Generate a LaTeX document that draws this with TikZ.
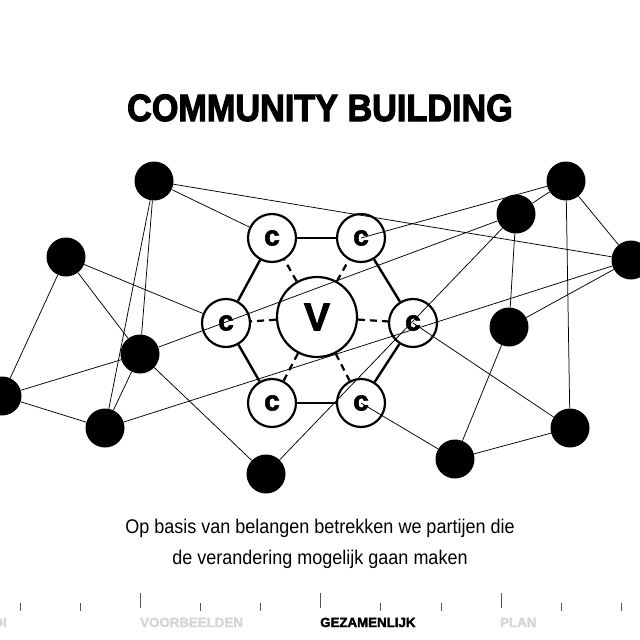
\documentclass[tikz,border=0pt]{standalone}
\usepackage{fontspec}
\setmainfont{Liberation Sans}
\newfontfamily\heavyfont{Liberation Sans}[BoldFeatures={FakeBold=2.2}]
\newfontfamily\titlefont{Liberation Sans}[BoldFeatures={FakeBold=3}]
\definecolor{navgrey}{HTML}{D6D6D6}
\definecolor{tickgrey}{HTML}{555555}
\begin{document}
\begin{tikzpicture}[x=1pt,y=-1pt,
  blk/.style={circle,fill=black,minimum size=39pt,inner sep=0pt},
  cnode/.style={circle,draw=black,line width=2.2pt,fill=white,minimum size=48pt,inner sep=0pt,
    font=\heavyfont\bfseries\fontsize{28}{28}\selectfont},
  vnode/.style={circle,draw=black,line width=2.2pt,fill=white,minimum size=80pt,inner sep=0pt,
    font=\heavyfont\bfseries\fontsize{39}{39}\selectfont},
  hexedge/.style={line width=2.4pt},
  dashedge/.style={line width=2.2pt,dash pattern=on 7pt off 5pt},
  thinedge/.style={line width=0.75pt},
  navtick/.style={draw=tickgrey,line width=0.9pt},
  navtext/.style={font=\heavyfont\bfseries\fontsize{13.3}{14}\selectfont,inner sep=0pt}]
\useasboundingbox (0,0) rectangle (640,640);
\fill[white] (0,0) rectangle (640,640);

% title
\node[font=\titlefont\bfseries\fontsize{38}{40}\selectfont,inner sep=0pt,anchor=base] (title) at (320,121) {\scalebox{0.9}[1]{COMMUNITY BUILDING}};

% black nodes
\node[blk] (B1) at (154,181) {};
\node[blk] (B2) at (66,257) {};
\node[blk] (B3) at (140,354) {};
\node[blk] (B4) at (2,396) {};
\node[blk] (B5) at (105,428) {};
\node[blk] (B6) at (266,474) {};
\node[blk] (B7) at (566,181) {};
\node[blk] (B8) at (516,214) {};
\node[blk] (B9) at (631,260) {};
\node[blk] (B10) at (509,327) {};
\node[blk] (B11) at (570,428) {};
\node[blk] (B12) at (455,459) {};

% hexagon nodes
\node[cnode] (C1) at (272,238) {c};
\node[cnode] (C2) at (361,238) {c};
\node[cnode] (C3) at (226,323) {c};
\node[cnode] (C4) at (413,323) {c};
\node[cnode] (C5) at (272,403) {c};
\node[cnode] (C6) at (361,403) {c};
\node[vnode] (V) at (317,317) {V};

% hexagon edges
\draw[hexedge] (C1) -- (C2);
\draw[hexedge] (C2) -- (C4);
\draw[hexedge] (C4) -- (C6);
\draw[hexedge] (C6) -- (C5);
\draw[hexedge] (C5) -- (C3);
\draw[hexedge] (C3) -- (C1);

% dashed spokes
\foreach \c in {C1,C2,C3,C4,C5,C6} \draw[dashedge] (V) -- (\c);

% thin network edges
\draw[thinedge] (B1) -- (C1);
\draw[thinedge] (B1) -- (B9);
\draw[thinedge] (B1) -- (B3);
\draw[thinedge] (B1) -- (B5);
\draw[thinedge] (B2) -- (C3);
\draw[thinedge] (B2) -- (B3);
\draw[thinedge] (B2) -- (B4);
\draw[thinedge] (B3) -- (B4);
\draw[thinedge] (B3) -- (B5);
\draw[thinedge] (B3) -- (B8);
\draw[thinedge] (B4) -- (B5);
\draw[thinedge] (B3) -- (B6);
\draw[thinedge] (B5) -- (B9);
\draw[thinedge] (B6) -- (B8);
\draw[thinedge] (C2.center) -- (B7);
\draw[thinedge] (B8) -- (B7);
\draw[thinedge] (B8) -- (B10);
\draw[thinedge] (B7) -- (B9);
\draw[thinedge] (B7) -- (B11);
\draw[thinedge] (B10) -- (B9);
\draw[thinedge] (B10) -- (B12);
\draw[thinedge] (B11) -- (B12);
\draw[thinedge] (C4.center) -- (B11);
\draw[thinedge] (C6.center) -- (B12);

% subtitle
\node[anchor=base,inner sep=0pt,font=\fontsize{18}{20}\selectfont] (sub1) at (320,533) {\scalebox{1}[1.1]{Op basis van belangen betrekken we partijen die}};
\node[anchor=base,inner sep=0pt,font=\fontsize{18}{20}\selectfont] (sub2) at (320,564) {\scalebox{1}[1.1]{de verandering mogelijk gaan maken}};

% navigation bar
\foreach \x in {20.5,80.5,200.5,260.5,380.5,441,561.5,621.5} \draw[navtick] (\x,603) -- (\x,611);
\foreach \x in {140.5,320.5,501.5} \draw[navtick] (\x,593) -- (\x,608);
\node[navtext,anchor=base east,text=navgrey] (nav1) at (7,627) {DI};
\node[navtext,anchor=base west,text=navgrey] (nav2) at (140,627) {VOORBEELDEN};
\node[navtext,anchor=base west,text=black] (nav3) at (320,627) {GEZAMENLIJK};
\node[navtext,anchor=base west,text=navgrey] (nav4) at (500,627) {PLAN};
\end{tikzpicture}
\end{document}
